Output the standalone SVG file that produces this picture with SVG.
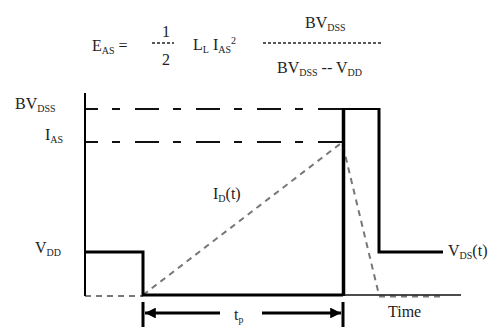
<svg xmlns="http://www.w3.org/2000/svg" width="497" height="329" viewBox="0 0 497 329">
<defs>
<style>
text{font-family:"Liberation Serif","Times New Roman",serif;font-size:16px;fill:#222}
.sub{font-size:10px}
.thick{stroke:#000;stroke-width:3;fill:none}
.med{stroke:#000;stroke-width:2;fill:none}
.thin{stroke:#111;stroke-width:1.5;fill:none}
.ref{stroke:#111;stroke-width:2;fill:none;stroke-dasharray:24 14 8 15;stroke-dashoffset:11}
.gray{stroke:#777;stroke-width:2;fill:none;stroke-dasharray:6 5}
.frac{stroke:#222;stroke-width:1.3;fill:none;stroke-dasharray:3 2}
</style>
<marker id="ah" viewBox="0 0 10 10" refX="10" refY="5" markerWidth="8" markerHeight="3.6" markerUnits="strokeWidth" orient="auto">
<path d="M0,0 L10,5 L0,10 Z" fill="#000"/>
</marker>
</defs>
<rect width="497" height="329" fill="#fff"/>

<g id="formula">
<text x="92" y="51">E<tspan class="sub" dy="3">AS</tspan><tspan dy="-3"> =</tspan></text>
<text x="162" y="37">1</text>
<line class="frac" x1="152" y1="43" x2="174" y2="43"/>
<text x="162" y="65">2</text>
<text x="193" y="50">L<tspan class="sub" dy="3">L</tspan><tspan dy="-3"> I</tspan><tspan class="sub" dy="3">AS</tspan><tspan class="sub" dy="-9">2</tspan></text>
<text x="305" y="28">BV<tspan class="sub" dy="3">DSS</tspan></text>
<line class="frac" x1="263" y1="43" x2="382" y2="43"/>
<text x="277" y="73">BV<tspan class="sub" dy="3">DSS</tspan><tspan dy="-3"> -- V</tspan><tspan class="sub" dy="3">DD</tspan></text>
</g>

<g id="levels">
<text x="15" y="109">BV<tspan class="sub" dy="3">DSS</tspan></text>
<text x="45" y="140">I<tspan class="sub" dy="3">AS</tspan></text>
<text x="35" y="253">V<tspan class="sub" dy="3">DD</tspan></text>
<line class="ref" x1="85" y1="109" x2="343" y2="109"/>
<line class="ref" x1="85" y1="142" x2="343" y2="142"/>
</g>

<g id="id-current">
<line class="gray" x1="143" y1="295" x2="340" y2="144"/>
<line class="gray" x1="343" y1="146" x2="379" y2="295"/>
<line class="gray" x1="85" y1="296" x2="143" y2="296"/>
<line class="gray" x1="379" y1="296.5" x2="443" y2="296.5"/>
<text x="213" y="199">I<tspan class="sub" dy="3">D</tspan><tspan dy="-3">(t)</tspan></text>
</g>

<g id="vds-waveform">
<line class="med" x1="85" y1="93" x2="85" y2="296"/>
<polyline class="thick" points="85,252 143,252 143,295 343,295"/>
<line x1="343.5" y1="108" x2="343.5" y2="296" stroke="#000" stroke-width="3.5"/>
<line class="med" x1="343" y1="109" x2="379" y2="109"/>
<polyline class="thick" points="379,108 379,252 443,252"/>
<line class="thin" x1="343" y1="295" x2="461" y2="295"/>
<text x="448" y="256">V<tspan class="sub" dy="3">DS</tspan><tspan dy="-3">(t)</tspan></text>
<text x="388" y="317">Time</text>
</g>

<g id="tp-connectors">
<line class="thick" x1="143" y1="302" x2="143" y2="327"/>
<line class="thick" x1="343" y1="302" x2="343" y2="327"/>
<line class="thick" x1="220" y1="313" x2="145" y2="313" marker-end="url(#ah)"/>
<line class="thick" x1="262" y1="313" x2="341" y2="313" marker-end="url(#ah)"/>
<text x="234" y="320">t<tspan class="sub" dy="3">p</tspan></text>
</g>
</svg>
